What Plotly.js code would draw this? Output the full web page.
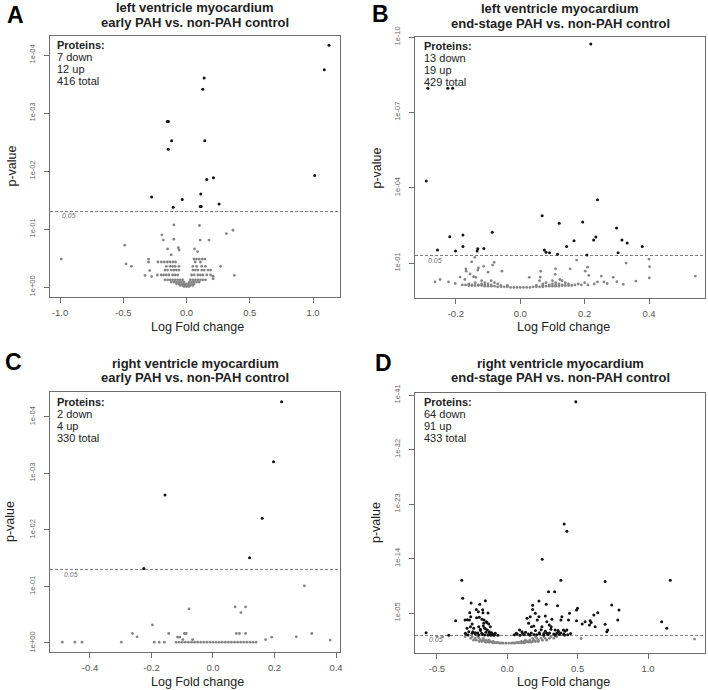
<!DOCTYPE html>
<html><head><meta charset="utf-8">
<script src="https://cdn.plot.ly/plotly-3.0.1.min.js"></script>
<style>html,body{margin:0;padding:0;background:#fff}#chart{width:708px;height:690px}</style>
</head><body><div id="chart"></div>
<script>
// ---------- Panel A: left ventricle, early PAH ----------
const aTitle = ['left ventricle myocardium', 'early PAH vs. non-PAH control'];
const aCounts = ['7 down', '12 up', '416 total'];
const aXTicks = [-1, -0.5, 0, 0.5, 1];
const aXTickText = ['-1.0', '-0.5', '0.0', '0.5', '1.0'];
const aYTicks = [1e-4, 1e-3, 1e-2, 1e-1, 1];
const aYTickText = ['1e-04', '1e-03', '1e-02', '1e-01', '1e+00'];
const aSigX = [1.126,1.089,0.139,0.128,-0.152,-0.143,-0.118,0.144,-0.144,1.013,0.160,0.213,-0.276,-0.034,0.113,-0.105,0.108,0.116,0.257];
const aSigP = [6.8e-5,1.8e-4,2.5e-4,3.9e-4,1.4e-3,1.4e-3,3.0e-3,3.0e-3,4.2e-3,0.012,0.014,0.013,0.028,0.031,0.025,0.042,0.041,0.041,0.037];
const aNsX = [-0.99,-0.10,0.102,0.367,0.315,-0.194,-0.184,-0.10,0.108,0.178,-0.488,-0.15,-0.065,-0.058,0.063,0.087,-0.121,-0.478,-0.436,-0.30,-0.30,0.27,0.378,-0.328,-0.291,-0.276,0.21,0.21,
 -0.226,-0.199,-0.176,-0.152,-0.131,-0.108,-0.087,
 0.058,0.079,0.10,0.124,0.144,0.068,0.11,
 -0.16,-0.13,-0.11,-0.09,-0.06,0.05,0.08,0.12,0.15,
 -0.17,-0.15,-0.12,-0.10,-0.08,-0.06,0.05,0.07,0.09,0.12,0.14,0.17,0.19,
 -0.23,-0.20,-0.18,-0.16,-0.14,-0.11,-0.09,-0.07,0.04,0.06,0.09,0.11,0.13,0.16,0.19,
 -0.17,-0.15,-0.13,-0.11,-0.09,-0.07,-0.05,-0.03,0.03,0.05,0.07,0.09,0.11,0.13,0.15,
 -0.12,-0.10,-0.08,-0.06,-0.04,-0.02,0.02,0.04,0.06,0.08,0.10,
 -0.08,-0.06,-0.04,-0.02,0.0,0.02,0.04,0.06,
 -0.05,-0.03,-0.01,0.01,0.03,0.05,
 -0.02,0.0,0.02];
const aNsP = [0.33,0.085,0.087,0.105,0.12,0.126,0.155,0.15,0.155,0.155,0.19,0.22,0.21,0.23,0.22,0.245,0.28,0.40,0.44,0.33,0.37,0.44,0.63,0.63,0.52,0.66,0.65,0.72,
 0.37,0.37,0.37,0.37,0.37,0.37,0.37,
 0.33,0.33,0.33,0.33,0.33,0.37,0.37,
 0.44,0.44,0.44,0.44,0.44,0.44,0.44,0.44,0.44,
 0.51,0.51,0.51,0.51,0.51,0.51,0.51,0.51,0.51,0.51,0.51,0.51,0.51,
 0.62,0.62,0.62,0.62,0.62,0.62,0.62,0.62,0.62,0.62,0.62,0.62,0.62,0.62,0.62,
 0.75,0.75,0.75,0.75,0.75,0.75,0.75,0.75,0.75,0.75,0.75,0.75,0.75,0.75,0.75,
 0.82,0.82,0.82,0.82,0.82,0.82,0.82,0.82,0.82,0.82,0.82,
 0.88,0.88,0.88,0.88,0.88,0.88,0.88,0.88,
 0.94,0.94,0.94,0.94,0.94,0.94,
 0.98,0.98,0.98];

// ---------- Panel B: left ventricle, end-stage PAH ----------
const bTitle = ['left ventricle myocardium', 'end-stage PAH vs. non-PAH control'];
const bCounts = ['13 down', '19 up', '429 total'];
const bXTicks = [-0.2, 0, 0.2, 0.4];
const bXTickText = ['-0.2', '0.0', '0.2', '0.4'];
const bYTicks = [1e-10, 1e-7, 1e-4, 1e-1];
const bYTickText = ['1e-10', '1e-07', '1e-04', '1e-01'];
const bSigX = [0.219,-0.287,-0.225,-0.210,-0.292,0.240,0.068,0.121,0.194,0.299,-0.087,-0.219,-0.178,-0.178,-0.257,-0.201,-0.134,-0.132,-0.113,0.075,0.080,0.091,0.116,0.144,0.167,0.228,0.235,0.207,0.316,0.332,0.304,0.379];
const bSigP = [1.9e-10,1.1e-8,1.1e-8,1.1e-8,5.4e-5,3.0e-4,1.3e-3,2.6e-3,2.3e-3,4.0e-3,5.9e-3,8.9e-3,7.6e-3,0.022,0.030,0.033,0.033,0.027,0.026,0.030,0.037,0.039,0.045,0.022,0.013,0.012,9.1e-3,0.048,0.012,0.016,0.039,0.022];
const bNsX = [0.544,0.400,0.402,0.401,0.329,0.359,0.289,0.252,0.26,0.24,0.175,0.155,0.202,0.209,0.213,0.110,0.109,0.123,0.064,0.062,0.028,-0.057,-0.081,-0.086,-0.100,-0.114,-0.130,-0.132,-0.151,-0.141,-0.156,-0.169,-0.168,-0.172,-0.187,-0.223,-0.202,-0.249,-0.265,-0.138,-0.145,
 -0.03,-0.02,-0.01,0.0,0.01,0.02,0.03,
 -0.07,-0.06,-0.05,-0.04,0.04,0.05,0.06,0.07,
 -0.11,-0.10,-0.09,-0.08,0.08,0.09,0.10,0.11,0.12,
 -0.16,-0.15,-0.14,-0.13,-0.12,-0.06,-0.04,0.05,0.07,0.13,0.14,0.15,0.16,
 -0.18,-0.17,-0.15,-0.13,-0.11,-0.09,0.09,0.11,0.13,0.17,0.19,0.21,
 -0.16,-0.12,-0.10,-0.07,0.07,0.10,0.12,0.15,0.18,0.23,
 -0.14,-0.11,-0.08,0.08,0.11,0.14,0.20,
 -0.12,-0.09,0.06,0.10,0.13,
 0.27,0.30,0.32];
const bNsP = [0.33,0.069,0.14,0.39,0.10,0.52,0.37,0.33,0.56,0.56,0.076,0.17,0.21,0.145,0.31,0.17,0.28,0.45,0.21,0.36,0.37,0.21,0.093,0.12,0.23,0.135,0.155,0.19,0.089,0.059,0.27,0.17,0.21,0.45,0.36,0.56,0.65,0.45,0.56,0.37,0.35,
 0.93,0.93,0.93,0.93,0.93,0.93,0.93,
 0.88,0.88,0.88,0.88,0.88,0.88,0.88,0.88,
 0.83,0.83,0.83,0.83,0.83,0.83,0.83,0.83,0.83,
 0.78,0.78,0.78,0.78,0.78,0.78,0.78,0.78,0.78,0.78,0.78,0.78,0.78,
 0.74,0.74,0.74,0.74,0.74,0.74,0.74,0.74,0.74,0.74,0.74,0.74,
 0.68,0.68,0.68,0.68,0.68,0.68,0.68,0.68,0.68,0.68,
 0.60,0.60,0.60,0.60,0.60,0.60,0.60,
 0.50,0.50,0.50,0.50,0.50,
 0.65,0.55,0.70];

// ---------- Panel C: right ventricle, early PAH ----------
const cTitle = ['right ventricle myocardium', 'early PAH vs. non-PAH control'];
const cCounts = ['2 down', '4 up', '330 total'];
const cXTicks = [-0.4, -0.2, 0, 0.2, 0.4];
const cXTickText = ['-0.4', '-0.2', '0.0', '0.2', '0.4'];
const cYTicks = [1e-4, 1e-3, 1e-2, 1e-1, 1];
const cYTickText = ['1e-04', '1e-03', '1e-02', '1e-01', '1e+00'];
const cSigX = [0.223,0.197,-0.156,0.160,0.119,-0.225];
const cSigP = [5.4e-5,6.2e-4,2.4e-3,6.2e-3,0.031,0.048];
const cNsX = [0.297,0.072,0.106,0.091,-0.078,-0.197,-0.262,-0.247,-0.144,-0.093,-0.087,-0.115,-0.108,-0.098,-0.066,0.076,0.086,0.106,0.321,0.271,0.191,0.171,0.381,
 -0.49,-0.449,-0.426,-0.298,-0.191,-0.175,-0.158,
 -0.12,-0.11,-0.10,-0.09,-0.08,-0.07,-0.06,-0.05,-0.04,-0.03,-0.02,-0.01,0.0,0.01,0.02,0.03,0.04,0.05,0.06,0.07,0.08,0.09,0.10,0.11,0.12,0.13,0.14];
const cNsP = [0.098,0.23,0.23,0.29,0.25,0.48,0.68,0.78,0.68,0.68,0.68,0.79,0.79,0.87,0.87,0.68,0.68,0.68,0.68,0.78,0.79,0.87,0.89,
 0.97,0.97,0.97,0.97,0.97,0.97,0.97,
 0.97,0.97,0.97,0.97,0.97,0.97,0.97,0.97,0.97,0.97,0.97,0.97,0.97,0.97,0.97,0.97,0.97,0.97,0.97,0.97,0.97,0.97,0.97,0.97,0.97,0.97,0.97];

// ---------- Panel D: right ventricle, end-stage PAH ----------
const dTitle = ['right ventricle myocardium', 'end-stage PAH vs. non-PAH control'];
const dCounts = ['64 down', '91 up', '433 total'];
const dXTicks = [-0.5, 0, 0.5, 1.0];
const dXTickText = ['-0.5', '0.0', '0.5', '1.0'];
const dYTicks = [1e-41, 1e-32, 1e-23, 1e-14, 1e-5];
const dYTickText = ['1e-41', '1e-32', '1e-23', '1e-14', '1e-05'];
const dSigX = [0.487,0.404,0.423,0.248,-0.324,0.381,0.695,1.158,-0.317,0.293,0.336,0.225,0.277,0.357,0.180,
 -0.257,-0.196,-0.156,-0.175,-0.137,-0.218,-0.284,-0.300,-0.262,-0.367,-0.267,-0.206,-0.173,
 -0.180,-0.165,-0.149,-0.132,-0.170,-0.156,-0.142,-0.128,-0.109,-0.092,-0.286,-0.274,-0.250,-0.227,-0.203,-0.182,-0.161,-0.137,-0.118,
 -0.270,-0.260,-0.220,-0.199,-0.250,-0.203,-0.121,-0.239,-0.191,-0.144,-0.168,-0.161,-0.113,-0.085,-0.066,-0.279,-0.298,-0.577,-0.416,
 -0.295,-0.245,-0.228,-0.21,-0.19,-0.175,-0.152,-0.135,-0.125,-0.105,-0.098,
 0.140,0.163,0.180,0.199,0.151,0.172,0.189,0.213,0.225,0.246,0.270,0.281,0.298,0.317,0.312,0.340,0.352,0.364,0.381,0.388,0.399,0.407,0.423,0.435,0.442,
 0.492,0.499,0.492,0.532,0.553,0.589,0.584,0.596,0.615,0.624,0.643,0.695,0.707,0.714,0.742,0.785,0.794,1.097,1.133,0.087,0.104,0.064,0.227,0.258,0.281,
 0.05,0.07,0.09,0.11,0.12,0.13,0.15,0.16,0.17,0.19,0.20,0.21,0.23,0.24,0.26,0.27,0.29,0.30,0.31,0.33,0.34,0.36,0.37,0.38,0.40,0.41,0.43,0.45];
const dSigP = [1.3e-40,2.0e-20,3.2e-19,1.3e-14,4.0e-11,4.0e-11,6.3e-11,4.0e-11,3.7e-8,3.2e-9,3.2e-9,1e-7,3.7e-7,6.3e-7,5.0e-7,
 2.2e-7,3.7e-7,9.3e-8,2.9e-6,1e-5,6.0e-5,1.3e-4,1.4e-4,1.8e-3,1.9e-4,8.9e-6,6.0e-6,8.9e-6,
 1.1e-4,1.4e-4,2.8e-4,6.6e-4,1.4e-3,3.9e-3,6.5e-3,0.012,0.022,0.043,3.4e-3,0.012,0.022,0.018,0.043,0.022,0.043,0.043,0.045,
 1.4e-4,4.1e-5,2.5e-6,5.1e-5,6.6e-4,1.8e-3,1.8e-3,3.4e-3,4.9e-3,4.0e-4,5.0e-4,3.4e-3,0.018,0.022,0.048,0.043,0.022,0.018,0.045,
 0.03,0.012,0.03,0.02,0.008,0.035,0.015,0.04,0.025,0.03,0.045,
 7.6e-5,4.1e-5,2.5e-6,1.1e-5,5.0e-4,1.8e-3,1.4e-3,1.4e-4,4.1e-5,1.8e-3,3.2e-5,2.8e-4,9.5e-4,1.1e-4,1.8e-3,6.5e-3,0.022,0.012,1.4e-4,4.1e-5,6.5e-3,0.043,6.5e-3,1.4e-4,1.1e-5,
 3.2e-6,1.7e-6,1.9e-4,6.6e-4,2.8e-4,1.9e-4,9.5e-4,3.5e-4,2.1e-5,1.8e-3,8.9e-6,7.4e-4,0.012,6.5e-3,4.8e-7,1.4e-4,3.2e-6,2.8e-4,3.4e-3,6.5e-3,0.012,0.022,0.018,0.043,0.022,
 0.04,0.03,0.045,0.025,0.04,0.015,0.03,0.045,0.02,0.035,0.008,0.04,0.03,0.006,0.025,0.01,0.04,0.02,0.005,0.03,0.045,0.008,0.035,0.02,0.03,0.01,0.04,0.025];
const dNsX = [-0.05,-0.03,-0.01,0.01,0.03,0.05,
 -0.10,-0.08,-0.06,-0.04,0.04,0.06,0.08,0.10,0.12,
 -0.15,-0.13,-0.11,-0.09,-0.07,0.07,0.09,0.11,0.13,0.15,0.17,
 -0.20,-0.18,-0.16,-0.14,-0.12,-0.10,0.10,0.12,0.14,0.16,0.18,0.20,0.22,
 -0.24,-0.22,-0.19,-0.17,-0.15,-0.13,0.13,0.16,0.19,0.22,0.25,0.28,
 -0.26,-0.23,-0.20,-0.17,0.18,0.21,0.24,0.27,0.30,0.33,
 -0.30,-0.25,-0.21,0.20,0.26,0.31,0.35,
 0.525,1.331,-0.46,-0.50];
const dNsP = [0.95,0.95,0.95,0.95,0.95,0.95,
 0.85,0.85,0.85,0.85,0.85,0.85,0.85,0.85,0.85,
 0.7,0.7,0.7,0.7,0.7,0.7,0.7,0.7,0.7,0.7,0.7,
 0.5,0.5,0.5,0.5,0.5,0.5,0.5,0.5,0.5,0.5,0.5,0.5,0.5,
 0.3,0.3,0.3,0.3,0.3,0.3,0.3,0.3,0.3,0.3,0.3,0.3,
 0.15,0.15,0.15,0.15,0.15,0.15,0.15,0.15,0.15,0.15,
 0.08,0.08,0.08,0.08,0.08,0.08,0.08,
 0.16,0.2,0.08,0.07];

const threshold = 0.05;

// ---------- layout helpers (pixel positions) ----------
const W = 708, H = 690;
const fx = px => px / W;
const fy = py => 1 - py / H;
const FONT = 'Liberation Sans, Arial, Helvetica, sans-serif';

const panels = [
  {letter:'A', title:aTitle, counts:aCounts, xtv:aXTicks, xtt:aXTickText, ytv:aYTicks, ytt:aYTickText,
   sx:aSigX, sp:aSigP, nx:aNsX, np:aNsP, box:[50,36,340,297], xr:[-1.079,1.213], yr:[0.172,-4.328],
   letterXY:[5,15], titleY:[7.5,22.5], prot:[55,45], thr:[60,215], xtitleY:327, ytitleX:11},
  {letter:'B', title:bTitle, counts:bCounts, xtv:bXTicks, xtt:bXTickText, ytv:bYTicks, ytt:bYTickText,
   sx:bSigX, sp:bSigP, nx:bNsX, np:bNsP, box:[415,37,705,298], xr:[-0.327,0.574], yr:[0.39,-10.0],
   letterXY:[370,14], titleY:[8.7,23.3], prot:[422,46], thr:[426,260], xtitleY:327, ytitleX:377},
  {letter:'C', title:cTitle, counts:cCounts, xtv:cXTicks, xtt:cXTickText, ytv:cYTicks, ytt:cYTickText,
   sx:cSigX, sp:cSigP, nx:cNsX, np:cNsP, box:[50,392,340,652], xr:[-0.530,0.413], yr:[0.16,-4.44],
   letterXY:[3,362], titleY:[363,378], prot:[55,402], thr:[62,574], xtitleY:682, ytitleX:10},
  {letter:'D', title:dTitle, counts:dCounts, xtv:dXTicks, xtt:dXTickText, ytv:dYTicks, ytt:dYTickText,
   sx:dSigX, sp:dSigP, nx:dNsX, np:dNsP, box:[415,393,705,653], xr:[-0.656,1.405], yr:[1.60,-41.33],
   letterXY:[373,363], titleY:[363,378], prot:[422,402], thr:[427,639], xtitleY:682, ytitleX:376}
];

const data = [];
const layout = {
  width: W, height: H, margin:{l:0,r:0,t:0,b:0},
  paper_bgcolor:'#fff', plot_bgcolor:'#fff', showlegend:false,
  font:{family:FONT, color:'#222'},
  annotations:[]
};

panels.forEach((p, i) => {
  const n = i === 0 ? '' : String(i + 1);
  const xa = 'x' + n, ya = 'y' + n;
  const [L, T, R, B] = p.box;
  // threshold line across the full x range at p = 0.05
  data.push({type:'scatter', mode:'lines', x:p.xr, y:[threshold, threshold], xaxis:xa, yaxis:ya,
             line:{color:'#7a7a7a', width:1, dash:'3px,2px'}, hoverinfo:'skip'});
  data.push({type:'scatter', mode:'markers', x:p.nx, y:p.np, xaxis:xa, yaxis:ya,
             marker:{color:'#858585', size:2.8}, hoverinfo:'skip', cliponaxis:false});
  data.push({type:'scatter', mode:'markers', x:p.sx, y:p.sp, xaxis:xa, yaxis:ya,
             marker:{color:'#111', size:3}, hoverinfo:'skip', cliponaxis:false});
  const axCommon = {showgrid:false, zeroline:false, showline:true, mirror:true, linecolor:'#6e6e6e', linewidth:1,
                    ticks:'outside', ticklen:5, tickcolor:'#6e6e6e', tickwidth:1, tickmode:'array'};
  layout['xaxis' + n] = Object.assign({}, axCommon, {
    domain:[fx(L), fx(R)], anchor:ya, range:p.xr, tickvals:p.xtv, ticktext:p.xtt,
    tickfont:{family:FONT, size:9.5, color:'#555'}, ticklabelstandoff:2
  });
  layout['yaxis' + n] = Object.assign({}, axCommon, {
    type:'log', domain:[fy(B), fy(T)], anchor:xa, range:p.yr, tickvals:p.ytv, ticktext:p.ytt,
    tickangle:-90, tickfont:{family:FONT, size:7.5, color:'#666'}, ticklabelstandoff:6
  });

  const ann = layout.annotations;
  ann.push({xref:'paper', yref:'paper', x:fx(p.letterXY[0]), y:fy(p.letterXY[1]), xanchor:'left', yanchor:'middle',
            text:'<b>' + p.letter + '</b>', showarrow:false, font:{family:FONT, size:23, color:'#000'}});
  const cx = (L + R) / 2;
  p.title.forEach((t, k) => ann.push({xref:'paper', yref:'paper', x:fx(cx), y:fy(p.titleY[k]), xanchor:'center', yanchor:'middle',
            text:'<b>' + t + '</b>', showarrow:false, font:{family:FONT, size:13, color:'#222'}}));
  ann.push({xref:'paper', yref:'paper', x:fx(p.prot[0]), y:fy(p.prot[1]), xanchor:'left', yanchor:'middle',
            text:'<b>Proteins:</b>', showarrow:false, font:{family:FONT, size:11, color:'#222'}});
  p.counts.forEach((t, k) => ann.push({xref:'paper', yref:'paper', x:fx(p.prot[0]), y:fy(p.prot[1] + 12 * (k + 1)),
            xanchor:'left', yanchor:'middle', text:t, showarrow:false, font:{family:FONT, size:11, color:'#222'}}));
  ann.push({xref:'paper', yref:'paper', x:fx(p.thr[0]), y:fy(p.thr[1]), xanchor:'left', yanchor:'middle',
            text:'<i>' + threshold.toFixed(2) + '</i>', showarrow:false, font:{family:FONT, size:7, color:'#707070'}});
  ann.push({xref:'paper', yref:'paper', x:fx(cx + 3), y:fy(p.xtitleY), xanchor:'center', yanchor:'middle',
            text:'Log Fold change', showarrow:false, font:{family:FONT, size:12.5, color:'#222'}});
  ann.push({xref:'paper', yref:'paper', x:fx(p.ytitleX), y:fy((T + B) / 2), xanchor:'center', yanchor:'middle',
            text:'p-value', textangle:-90, showarrow:false, font:{family:FONT, size:12.5, color:'#222'}});
});

Plotly.newPlot('chart', data, layout, {staticPlot:true, displayModeBar:false});
</script>
</body></html>
